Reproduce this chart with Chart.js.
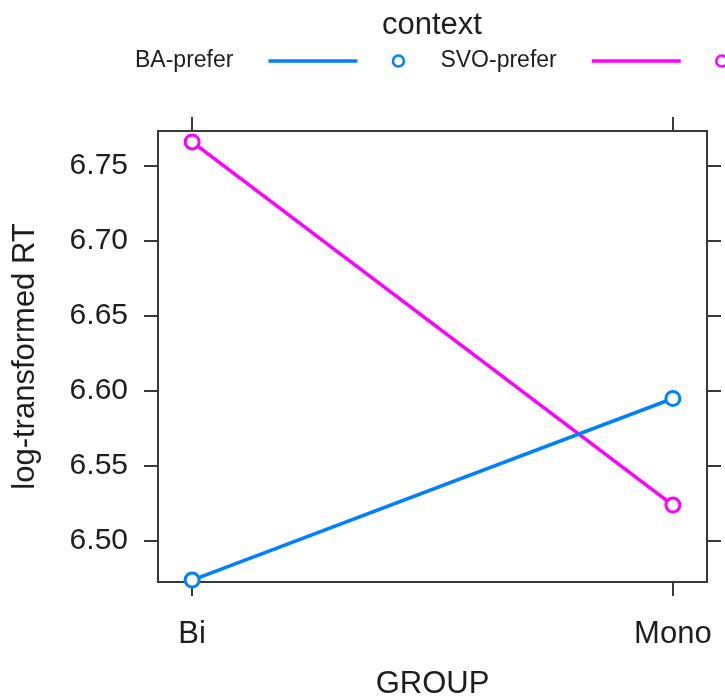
<!DOCTYPE html>
<html>
<head>
<meta charset="utf-8">
<script src="https://cdn.jsdelivr.net/npm/chart.js@4"></script>
<style>
  body { margin: 0; background: #fff; }
  canvas { display: block; }
</style>
</head>
<body>
<canvas id="grafic" width="725" height="700"></canvas>
<script>
// data
let groups = ["Bi", "Mono"];
let groupPos = [1, 2];
let contexts = ["BA-prefer", "SVO-prefer"];
let baPrefer = [6.474, 6.595];
let svoPrefer = [6.766, 6.524];
let yTicks = [6.50, 6.55, 6.60, 6.65, 6.70, 6.75];
let colors = ["#0080ff", "#ff00ff"];

let xMin = 0.929, xMax = 2.071;
let yMin = 6.4727, yMax = 6.7733;
let axisColor = "#3a3a3a";
let textColor = "#1e1e1e";
let fontFam = "'Liberation Sans', Arial, sans-serif";

function toPoints(vals) {
  return vals.map((v, i) => ({ x: groupPos[i], y: v }));
}

// legend on top, drawn like the lattice key: text, line, circle
const keyPlugin = {
  id: "key",
  afterDraw(chart) {
    const ctx = chart.ctx;
    ctx.save();
    ctx.fillStyle = textColor;
    ctx.textAlign = "center";
    ctx.textBaseline = "middle";
    ctx.font = "31px " + fontFam;
    ctx.fillText("context", 432, 25);

    ctx.font = "23px " + fontFam;
    ctx.textAlign = "left";
    let x = 135;
    const y = 61;
    chart.data.datasets.forEach((ds) => {
      ctx.fillStyle = textColor;
      ctx.fillText(ds.label, x, y);
      x += ctx.measureText(ds.label).width + 35;
      ctx.strokeStyle = ds.borderColor;
      ctx.lineWidth = 3.5;
      ctx.beginPath();
      ctx.moveTo(x, y);
      ctx.lineTo(x + 89, y);
      ctx.stroke();
      x += 89 + 41;
      ctx.lineWidth = 2.5;
      ctx.beginPath();
      ctx.arc(x, y, 5.5, 0, Math.PI * 2);
      ctx.stroke();
      x += 42;
    });
    ctx.restore();
  },
};

function fixedTicks(values) {
  return (scale) => {
    scale.ticks = values.map((v) => ({ value: v }));
  };
}

// fixed box sizes, no extra padding for overhanging labels
function fixSize(w, h) {
  return (s) => {
    if (w != null) s.width = w;
    if (h != null) s.height = h;
    s.paddingLeft = 0;
    s.paddingRight = 0;
    s.paddingTop = 0;
    s.paddingBottom = 0;
  };
}

const ctx = document.getElementById("grafic").getContext("2d");
let grafic = new Chart(ctx, {
  type: "line",
  data: {
    datasets: [
      {
        label: contexts[0],
        data: toPoints(baPrefer),
        borderColor: colors[0],
        backgroundColor: "#ffffff",
      },
      {
        label: contexts[1],
        data: toPoints(svoPrefer),
        borderColor: colors[1],
        backgroundColor: "#ffffff",
      },
    ],
  },
  options: {
    responsive: false,
    animation: false,
    devicePixelRatio: 1,
    clip: false,
    layout: { padding: 0, autoPadding: false },
    elements: {
      line: { borderWidth: 3.5, tension: 0 },
      point: { radius: 7, borderWidth: 3, pointStyle: "circle" },
    },
    plugins: {
      legend: { display: false },
      tooltip: { enabled: false },
    },
    scales: {
      x: {
        type: "linear",
        position: "bottom",
        min: xMin,
        max: xMax,
        afterBuildTicks: fixedTicks(groupPos),
        afterFit: fixSize(null, 118),
        grid: { drawOnChartArea: false, drawTicks: true, tickLength: 14, color: axisColor, lineWidth: 2 },
        border: { display: true, color: axisColor, width: 2 },
        ticks: {
          padding: 20,
          color: textColor,
          font: { size: 31, family: fontFam },
          callback: (v) => groups[groupPos.indexOf(v)],
        },
        title: {
          display: true,
          text: "GROUP",
          color: textColor,
          padding: 0,
          font: { size: 31, family: fontFam, lineHeight: 1 },
        },
      },
      x2: {
        type: "linear",
        position: "top",
        min: xMin,
        max: xMax,
        afterBuildTicks: fixedTicks(groupPos),
        afterFit: fixSize(null, 131),
        grid: { drawOnChartArea: false, drawTicks: true, tickLength: 14, color: axisColor, lineWidth: 2 },
        border: { display: true, color: axisColor, width: 2 },
        ticks: { display: false },
      },
      y: {
        type: "linear",
        position: "left",
        min: yMin,
        max: yMax,
        afterBuildTicks: fixedTicks(yTicks),
        afterFit: fixSize(158, null),
        grid: { drawOnChartArea: false, drawTicks: true, tickLength: 14, color: axisColor, lineWidth: 2 },
        border: { display: true, color: axisColor, width: 2 },
        ticks: {
          padding: 16,
          color: textColor,
          font: { size: 30, family: fontFam },
          callback: (v) => v.toFixed(2),
        },
        title: {
          display: true,
          text: "log-transformed RT",
          color: textColor,
          padding: { top: 7, bottom: 0 },
          font: { size: 31, family: fontFam, lineHeight: 1.2 },
        },
      },
      y2: {
        type: "linear",
        position: "right",
        min: yMin,
        max: yMax,
        afterBuildTicks: fixedTicks(yTicks),
        afterFit: fixSize(18, null),
        grid: { drawOnChartArea: false, drawTicks: true, tickLength: 14, color: axisColor, lineWidth: 2 },
        border: { display: true, color: axisColor, width: 2 },
        ticks: { display: false },
      },
    },
  },
  plugins: [keyPlugin],
});
</script>
</body>
</html>
